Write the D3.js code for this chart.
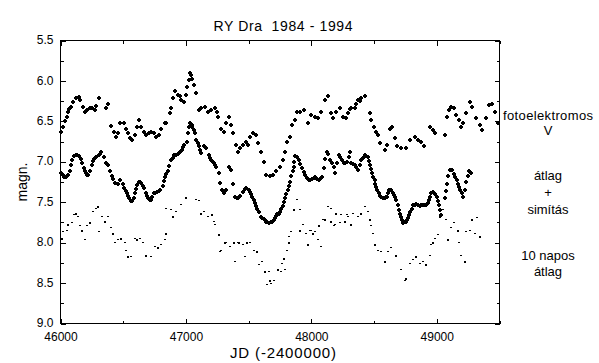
<!DOCTYPE html>
<html>
<head>
<meta charset="utf-8">
<script src="https://cdn.jsdelivr.net/npm/d3@7"></script>
<style>
  body { margin: 0; background: #fff; }
  text { font-family: "Liberation Sans", Arial, sans-serif; fill: #000; }
</style>
</head>
<body>
<svg id="chart" width="599" height="363"></svg>
<script>
// photoelectric V observations  [JD-2400000, magn]
const fotoV = [
  [46002,6.63],[46021,6.57],[46034,6.50],[46048,6.44],[46061,6.38],[46070,6.35],[46080,6.32],[46100,6.26],[46127,6.21],[46146,6.20],
  [46159,6.23],[46180,6.32],[46194,6.38],[46212,6.36],[46233,6.34],[46255,6.33],[46273,6.36],[46287,6.31],[46303,6.21],
  [46361,6.34],[46379,6.28],[46406,6.56],[46425,6.63],[46441,6.69],[46459,6.65],[46478,6.52],[46504,6.52],[46520,6.59],
  [46539,6.65],[46558,6.71],[46574,6.73],[46592,6.67],[46610,6.57],[46626,6.48],[46645,6.57],[46666,6.63],[46685,6.67],
  [46706,6.65],[46725,6.63],[46743,6.65],[46765,6.69],[46786,6.67],[46805,6.59],[46831,6.52],[46845,6.52],[46871,6.40],
  [46884,6.34],[46897,6.21],[46916,6.13],[46937,6.17],[46951,6.19],[46964,6.23],[46982,6.26],[46998,6.17],[47009,6.08],
  [47022,5.99],[47036,5.90],[47042,5.93],[47052,5.97],[47065,6.05],[47084,6.15],[47102,6.36],[47124,6.34],[47150,6.32],
  [47175,6.38],[47203,6.36],[47229,6.34],[47248,6.38],[47259,6.44],[47283,6.59],[47301,6.63],[47323,6.52],[47344,6.44],
  [47362,6.54],[47375,6.65],[47397,6.79],[47415,6.88],[47434,6.83],[47455,6.79],[47477,6.75],[47495,6.79],[47514,6.69],
  [47535,6.65],[47556,6.67],[47575,6.77],[47602,6.88],[47620,7.00],[47641,7.16],[47668,7.18],[47694,7.16],[47721,7.12],
  [47747,7.06],[47774,6.98],[47787,6.88],[47806,6.75],[47827,6.69],[47849,6.54],[47867,6.48],[47888,6.38],[47907,6.38],
  [47939,6.36],[47973,6.52],[48000,6.42],[48026,6.44],[48053,6.46],[48080,6.38],[48106,6.23],[48132,6.19],[48159,6.40],
  [48172,6.46],[48199,6.38],[48225,6.34],[48252,6.44],[48279,6.46],[48292,6.40],[48306,6.35],[48319,6.34],[48345,6.34],
  [48358,6.28],[48371,6.23],[48385,6.25],[48398,6.21],[48425,6.19],[48464,6.40],[48478,6.48],[48496,6.57],[48512,6.63],
  [48530,6.67],[48544,6.77],[48584,6.85],[48602,6.79],[48624,6.59],[48645,6.57],[48663,6.71],[48682,6.81],[48717,6.83],
  [48751,6.83],[48783,6.73],[48823,6.69],[48849,6.73],[48876,6.75],[48902,6.81],[48948,6.57],[48969,6.61],[48982,6.65],
  [49062,6.67],[49080,6.44],[49096,6.36],[49115,6.32],[49134,6.34],[49155,6.42],[49176,6.48],[49195,6.57],[49208,6.52],
  [49235,6.40],[49261,6.26],[49283,6.32],[49315,6.46],[49341,6.54],[49362,6.61],[49389,6.46],[49415,6.30],[49442,6.28],
  [49461,6.38],[49487,6.52]
];

// mean + smoothing
const atlagSimitas = [
  [46005,7.14],[46018,7.16],[46030,7.19],[46045,7.19],[46058,7.16],[46072,7.12],[46085,7.04],[46095,6.98],[46106,6.93],
  [46120,6.92],[46132,6.92],[46145,6.93],[46160,6.97],[46170,7.02],[46186,7.08],[46195,7.12],[46204,7.14],[46215,7.16],
  [46223,7.16],[46239,7.12],[46249,7.04],[46258,6.99],[46265,6.96],[46275,6.95],[46284,6.94],[46303,6.92],[46315,6.90],
  [46324,6.88],[46343,6.94],[46359,7.01],[46368,7.03],[46377,7.04],[46398,7.12],[46408,7.17],[46417,7.21],[46435,7.26],
  [46457,7.27],[46478,7.23],[46496,7.27],[46510,7.33],[46520,7.36],[46528,7.39],[46540,7.42],[46550,7.45],[46560,7.48],
  [46568,7.49],[46584,7.45],[46594,7.39],[46602,7.34],[46612,7.29],[46622,7.25],[46632,7.25],[46642,7.26],[46654,7.30],
  [46664,7.33],[46682,7.39],[46692,7.42],[46701,7.45],[46712,7.47],[46722,7.47],[46732,7.43],[46743,7.39],[46756,7.38],
  [46770,7.37],[46785,7.36],[46797,7.35],[46815,7.30],[46825,7.24],[46834,7.19],[46845,7.15],[46855,7.12],[46868,7.05],
  [46881,6.98],[46895,6.95],[46908,6.92],[46922,6.91],[46935,6.90],[46950,6.88],[46967,6.85],[46978,6.82],[46988,6.79],
  [47009,6.75],[47017,6.65],[47028,6.57],[47036,6.52],[47045,6.55],[47052,6.57],[47062,6.61],[47071,6.65],[47084,6.73],
  [47093,6.77],[47102,6.81],[47114,6.86],[47124,6.89],[47142,6.81],[47163,6.83],[47184,6.92],[47194,6.95],[47203,6.98],
  [47212,7.00],[47221,7.02],[47232,7.04],[47243,7.06],[47261,7.14],[47275,7.26],[47288,7.35],[47307,7.39],[47323,7.35],
  [47345,7.06],[47360,7.10],[47372,7.27],[47394,7.44],[47405,7.45],[47415,7.45],[47435,7.42],[47455,7.37],[47468,7.34],
  [47478,7.33],[47500,7.35],[47510,7.37],[47520,7.40],[47530,7.44],[47540,7.47],[47550,7.51],[47560,7.55],[47570,7.59],
  [47582,7.62],[47600,7.68],[47610,7.70],[47620,7.71],[47630,7.72],[47640,7.74],[47650,7.75],[47660,7.76],[47675,7.75],
  [47690,7.74],[47700,7.72],[47710,7.70],[47720,7.67],[47730,7.65],[47740,7.64],[47750,7.62],[47760,7.59],[47770,7.55],
  [47780,7.50],[47790,7.45],[47800,7.40],[47810,7.35],[47820,7.30],[47830,7.25],[47840,7.18],[47850,7.12],[47860,7.07],
  [47865,7.00],[47873,6.93],[47887,6.94],[47900,6.98],[47913,7.03],[47926,7.08],[47940,7.13],[47952,7.16],[47965,7.20],
  [47979,7.23],[47992,7.22],[48005,7.21],[48018,7.20],[48032,7.19],[48045,7.21],[48058,7.23],[48072,7.21],[48085,7.19],
  [48100,7.08],[48112,6.96],[48124,6.88],[48135,6.90],[48150,6.98],[48165,7.02],[48177,7.06],[48191,7.14],[48205,7.02],
  [48218,6.92],[48232,6.94],[48245,6.98],[48257,7.02],[48270,7.01],[48284,7.00],[48297,6.94],[48306,6.88],[48319,7.02],
  [48332,7.03],[48345,7.04],[48358,7.07],[48372,7.10],[48385,7.04],[48398,6.98],[48412,6.95],[48425,6.92],[48438,6.93],
  [48451,6.94],[48460,6.99],[48470,7.04],[48478,7.09],[48486,7.14],[48495,7.19],[48504,7.23],[48510,7.27],[48517,7.31],
  [48527,7.35],[48538,7.39],[48547,7.42],[48557,7.44],[48570,7.45],[48584,7.45],[48593,7.44],[48602,7.43],[48610,7.39],
  [48618,7.35],[48627,7.35],[48637,7.35],[48647,7.38],[48656,7.41],[48667,7.44],[48677,7.47],[48688,7.54],[48698,7.60],
  [48708,7.64],[48717,7.68],[48724,7.72],[48730,7.76],[48740,7.75],[48751,7.74],[48760,7.72],[48770,7.70],[48780,7.66],
  [48789,7.62],[48800,7.58],[48810,7.54],[48824,7.53],[48837,7.52],[48850,7.54],[48863,7.55],[48877,7.54],[48890,7.54],
  [48903,7.54],[48916,7.54],[48927,7.51],[48937,7.47],[48946,7.43],[48956,7.39],[48969,7.37],[48985,7.40],[49001,7.43],
  [49009,7.48],[49017,7.54],[49026,7.60],[49036,7.66],[49062,7.45],[49071,7.36],[49080,7.27],[49090,7.18],[49102,7.10],
  [49112,7.10],[49123,7.10],[49136,7.15],[49149,7.19],[49158,7.23],[49168,7.27],[49178,7.31],[49187,7.35],[49198,7.39],
  [49208,7.43],[49221,7.35],[49235,7.25],[49245,7.18],[49256,7.12],[49265,7.13],[49275,7.14]
];

// 10-day means
const napos10 = [
  [46008,7.95],[46021,7.87],[46048,7.85],[46061,7.78],[46088,7.76],[46106,7.66],[46127,7.64],[46140,7.68],[46154,7.80],
  [46175,7.85],[46194,7.97],[46212,7.80],[46233,7.76],[46260,7.62],[46281,7.58],[46300,7.56],[46308,7.87],[46327,7.68],
  [46353,7.74],[46379,7.68],[46406,7.82],[46419,7.89],[46433,8.00],[46459,7.97],[46486,7.95],[46512,8.00],[46526,8.10],
  [46539,8.18],[46566,8.18],[46592,7.95],[46606,7.97],[46632,7.95],[46658,8.00],[46685,8.16],[46725,8.18],[46752,8.05],
  [46778,8.07],[46805,8.03],[46831,7.97],[46845,7.89],[46838,7.58],[46884,7.60],[46897,7.68],[46924,7.62],[46964,7.54],
  [47004,7.45],[47084,7.47],[47105,7.49],[47124,7.64],[47142,7.62],[47176,7.68],[47208,7.66],[47221,7.74],[47235,7.78],
  [47261,7.91],[47275,8.11],[47283,8.10],[47315,8.01],[47323,8.00],[47349,8.05],[47382,8.01],[47394,8.24],[47415,8.01],
  [47421,8.00],[47455,8.03],[47469,8.18],[47487,8.00],[47514,8.01],[47540,8.10],[47567,8.11],[47580,8.28],[47606,8.24],
  [47627,8.36],[47646,8.53],[47659,8.36],[47668,8.47],[47681,8.51],[47700,8.47],[47734,8.34],[47761,8.36],[47766,8.26],
  [47780,8.20],[47793,8.34],[47806,8.10],[47819,8.01],[47822,7.93],[47838,7.87],[47859,7.60],[47885,7.47],[47912,7.60],
  [47907,7.85],[47933,7.78],[47960,7.89],[47973,8.03],[47987,7.85],[48000,7.85],[48013,7.89],[48026,7.87],[48053,7.97],
  [48058,7.80],[48080,8.05],[48093,7.72],[48112,7.72],[48132,7.56],[48157,7.58],[48159,7.74],[48178,7.80],[48186,7.78],
  [48199,7.64],[48225,7.76],[48239,7.66],[48265,7.74],[48284,7.66],[48292,7.68],[48319,7.78],[48332,7.64],[48371,7.68],
  [48398,7.64],[48425,7.56],[48451,7.62],[48464,7.72],[48478,7.80],[48491,7.89],[48504,8.03],[48531,8.10],[48557,8.11],
  [48584,8.24],[48610,8.11],[48637,8.07],[48677,8.16],[48717,8.34],[48743,8.48],[48755,8.45],[48783,8.26],[48810,8.22],
  [48837,8.18],[48863,8.26],[48890,8.24],[48916,8.28],[48943,8.16],[48956,8.03],[48969,8.00],[48982,7.95],[49009,7.91],
  [49022,7.68],[49049,7.60],[49075,7.72],[49088,7.97],[49115,7.82],[49141,7.76],[49168,7.85],[49181,8.01],[49195,8.16],
  [49221,8.24],[49235,7.87],[49261,7.85],[49283,7.72],[49301,7.89],[49320,7.70],[49341,7.93]
];

const xMajor = [46000, 47000, 48000, 49000];
const xMinor = [46500, 47500, 48500, 49500];
const yMajor = [5.5, 6.0, 6.5, 7.0, 7.5, 8.0, 8.5, 9.0];
const yMinor = [5.75, 6.25, 6.75, 7.25, 7.75, 8.25, 8.75];

const rightLabels = [
  ["fotoelektromos", 120, 90], ["V", 135, 0],
  ["átlag", 180, 0], ["+", 197, 0], ["simítás", 214, 0],
  ["10 napos", 260, 0], ["átlag", 276, 0]
];

const pLeft = 60.5, pRight = 499.5, pTop = 40.5, pBottom = 323.5;

const x = d3.scaleLinear().domain([46000, 49500]).range([pLeft, pRight]);
const y = d3.scaleLinear().domain([5.5, 9.0]).range([pTop, pBottom]);

const svg = d3.select("#chart");

// ticks, all pointing inward
function ticks(axis, pos, values, size, labels) {
  const g = svg.append("g")
    .attr("transform", pos)
    .call(axis.tickValues(values).tickSizeInner(-size).tickSizeOuter(0)
      .tickPadding(labels ? 5 : 0)
      .tickFormat(labels ? labels : () => ""));
  g.select(".domain").remove();
  g.selectAll(".tick line").attr("stroke", "#000").attr("shape-rendering", "crispEdges");
  g.selectAll("text").attr("font-size", 12).attr("font-family", "Liberation Sans, Arial, sans-serif");
  return g;
}

ticks(d3.axisLeft(y), `translate(${pLeft},0)`, yMajor, 5, d3.format(".1f"))
  .selectAll("text").attr("x", -7).attr("dy", "0.26em");
ticks(d3.axisLeft(y), `translate(${pLeft},0)`, yMinor, 3);
ticks(d3.axisRight(y), `translate(${pRight},0)`, yMajor, 5);
ticks(d3.axisRight(y), `translate(${pRight},0)`, yMinor, 3);
ticks(d3.axisBottom(x), `translate(0,${pBottom})`, xMajor, 5, d3.format("d"))
  .selectAll("text").attr("y", 8.5);
ticks(d3.axisBottom(x), `translate(0,${pBottom})`, xMinor, 3);
ticks(d3.axisTop(x), `translate(0,${pTop})`, xMajor, 5);
ticks(d3.axisTop(x), `translate(0,${pTop})`, xMinor, 3);

svg.append("rect")
  .attr("x", pLeft).attr("y", pTop)
  .attr("width", pRight - pLeft).attr("height", pBottom - pTop)
  .attr("fill", "none").attr("stroke", "#000").attr("stroke-width", 1)
  .attr("shape-rendering", "crispEdges");

// series: small bold plus marks
const plus = "M-1,-2h2v1h1v2h-1v1h-2v-1h-1v-2h1z";

svg.append("g").selectAll("path")
  .data(fotoV.concat(atlagSimitas))
  .join("path")
    .attr("transform", d => `translate(${Math.round(x(d[0]))},${Math.round(y(d[1]))})`)
    .attr("d", plus)
    .attr("fill", "#000")
    .attr("shape-rendering", "crispEdges");

svg.append("g").selectAll("rect")
  .data(napos10)
  .join("rect")
    .attr("x", d => Math.round(x(d[0])) - 1)
    .attr("y", d => Math.round(y(d[1])) - 1)
    .attr("width", 2)
    .attr("height", (d, i) => i % 3 === 0 ? 2 : 1)
    .attr("fill", "#000")
    .attr("shape-rendering", "crispEdges");

// texts
svg.append("text")
  .attr("x", 283).attr("y", 31)
  .attr("text-anchor", "middle").attr("font-size", 14)
  .attr("textLength", 139).attr("lengthAdjust", "spacing")
  .style("white-space", "pre")
  .text("RY Dra  1984 - 1994");

svg.append("text")
  .attr("x", 283).attr("y", 358)
  .attr("text-anchor", "middle").attr("font-size", 15)
  .attr("textLength", 106).attr("lengthAdjust", "spacing")
  .text("JD (-2400000)");

svg.append("text")
  .attr("transform", "translate(27,182) rotate(-90)")
  .attr("text-anchor", "middle").attr("font-size", 14)
  .text("magn.");

svg.append("g").selectAll("text")
  .data(rightLabels)
  .join("text")
    .attr("x", 548).attr("y", d => d[1])
    .attr("text-anchor", "middle").attr("font-size", 13)
    .each(function(d) { if (d[2]) d3.select(this).attr("textLength", d[2]).attr("lengthAdjust", "spacing"); })
    .text(d => d[0]);
</script>
</body>
</html>
